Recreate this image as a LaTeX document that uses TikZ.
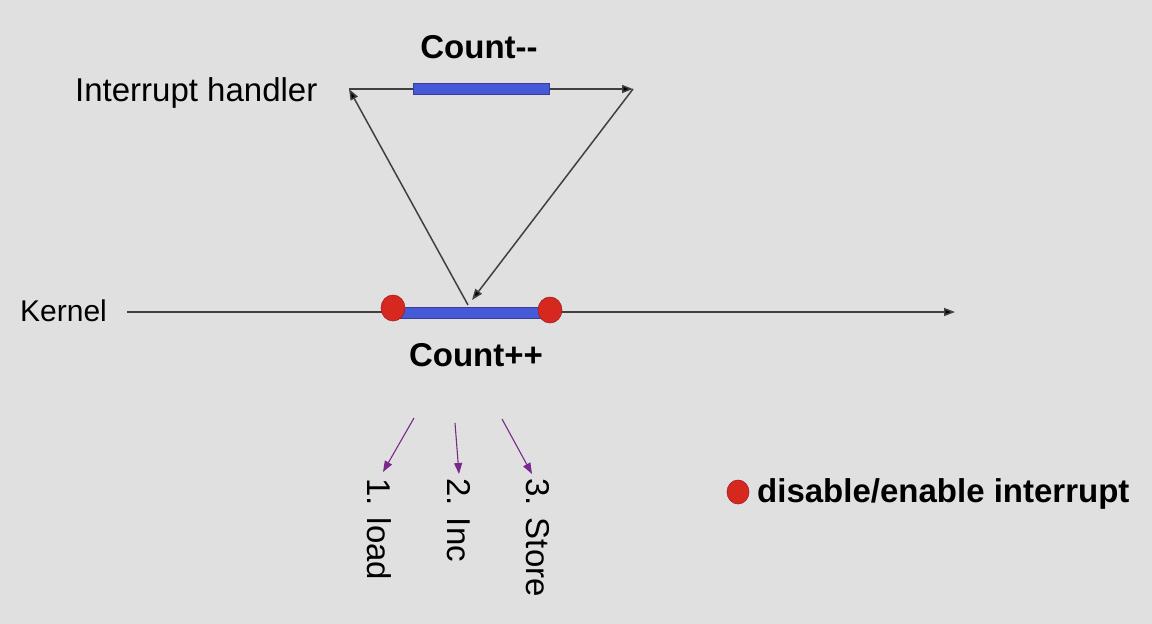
\documentclass[tikz,border=0pt]{standalone}
\usepackage{fontspec}
\setmainfont{Liberation Sans}
\usetikzlibrary{arrows.meta}
\definecolor{slidebg}{RGB}{224,224,224}
\definecolor{barblue}{RGB}{68,90,214}
\definecolor{barrim}{RGB}{60,60,150}
\definecolor{dotred}{RGB}{214,40,30}
\definecolor{dotrim}{RGB}{160,30,40}
\definecolor{steppurple}{RGB}{122,40,142}
\tikzset{
  timeline/.style={line width=1.5pt, draw=black!75, -{Triangle[length=11pt,width=8pt,fill=black]}},
  stepline/.style={line width=1.1pt, draw=steppurple, -{Triangle[length=11pt,width=8pt,fill=steppurple]}},
  critbar/.style={fill=barblue, draw=barrim, line width=0.6pt},
  irqdot/.style={fill=dotred, draw=dotrim, line width=0.6pt},
  lbl/.style={inner sep=0pt, font=\fontsize{33}{40}\selectfont},
  bold lbl/.style={lbl, font=\fontsize{33}{40}\selectfont\bfseries},
  step lbl/.style={inner sep=0pt, rotate=-90, anchor=base west, font=\fontsize{33}{40}\selectfont}
}
\begin{document}
\begin{tikzpicture}[x=1pt,y=-1pt]
  \useasboundingbox[fill=slidebg] (0,0) rectangle (1152,624);

  % Marking the two levels
  \node (handler) [lbl, anchor=base west] at (75,101) {Interrupt handler};
  \node (kernel) [lbl, anchor=base west, font=\fontsize{30}{36}\selectfont] at (20,321) {Kernel};

  % Points on the timelines
  \coordinate (hs) at (349,89);
  \coordinate (he) at (633,89);
  \coordinate (ks) at (127,312);
  \coordinate (ke) at (955,312);
  \coordinate (kleave) at (468,305);
  \coordinate (kback) at (472,300);

  % Drawing timeline of the kernel
  \draw [timeline] (ks) -- (ke);

  % Drawing timeline of the handler
  \draw [timeline] (hs) -- (he);

  % Drawing jump into the handler and back
  \draw [timeline] (kleave) -- (hs);
  \draw [timeline] (he) -- (kback);

  % Drawing critical sections
  \draw [critbar] (413,83) rectangle (549,94);
  \draw [critbar] (395,307) rectangle (548,318);

  % Marking disable/enable by dots
  \draw [irqdot] (393,308) ellipse (12 and 13);
  \draw [irqdot] (550,310) ellipse (12 and 13);

  % Marking critical sections
  \node (dec) [bold lbl, anchor=base] at (479,58) {Count-{}-};
  \node (inc) [bold lbl, anchor=base] at (476,366) {Count++};

  % Marking the three steps
  \coordinate (s1) at (414,418);
  \coordinate (s2) at (455,423);
  \coordinate (s3) at (502,419);
  \node (load) [step lbl] at (367,478) {1. load};
  \node (incr) [step lbl] at (447,478) {2. Inc};
  \node (store) [step lbl] at (526,478) {3. Store};
  \draw [stepline] (s1) -- (383,472);
  \draw [stepline] (s2) -- (459,474);
  \draw [stepline] (s3) -- (532,474);

  % Marking the legend
  \draw [irqdot] (738,492) ellipse (11 and 12);
  \node (legend) [bold lbl, anchor=base west] at (757,502) {disable/enable interrupt};
\end{tikzpicture}
\end{document}
